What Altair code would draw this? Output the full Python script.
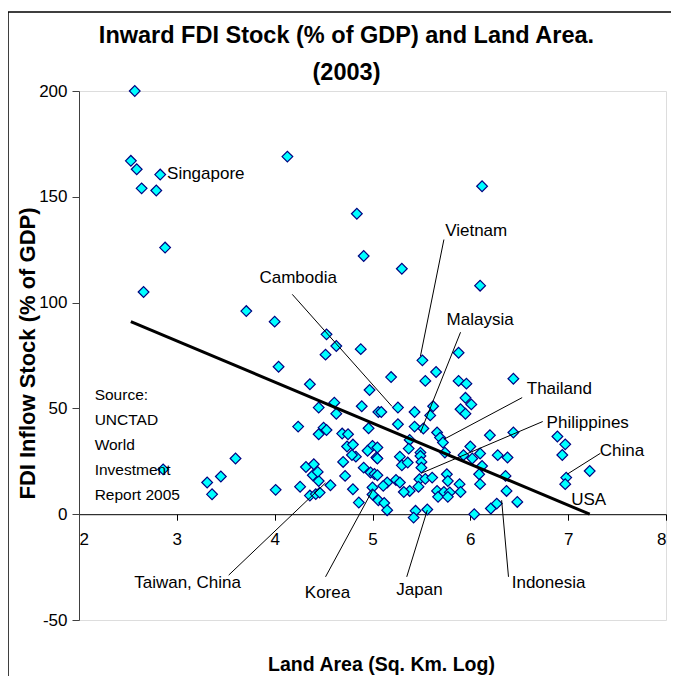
import altair as alt
import pandas as pd

# ---- scatter data (log land area, FDI stock % of GDP) ----
land_log = [
    2.57, 2.53, 2.59, 2.64, 2.79, 2.83, 4.13, 6.12, 4.84, 2.88, 4.91, 5.30, 6.10, 2.66,
    3.71, 4.00, 4.53, 4.63, 4.88, 4.52, 4.04, 5.51, 5.65, 5.88, 5.54, 5.88, 5.96, 6.44,
    5.19, 4.97, 4.36, 5.95, 6.01, 4.61, 4.45, 4.89, 5.26, 5.62, 5.90,
    4.63, 5.06, 5.95, 5.59, 5.43, 5.09, 5.26, 5.43, 5.52, 4.96, 4.24, 4.50, 4.53, 4.45,
    4.69, 4.75, 5.66, 5.69, 6.20, 6.44, 6.89, 5.38,
    4.74, 4.80, 4.83, 4.79, 5.00, 4.95, 5.04, 5.72, 5.74, 6.00, 6.10, 5.93, 6.02, 6.28,
    6.38, 6.97, 6.94, 5.49, 5.49, 5.37, 5.28, 5.05, 5.05, 3.60,
    6.12, 6.09, 6.10, 6.36, 6.37, 6.98, 7.22, 6.97, 5.50, 5.50, 5.48, 5.54, 5.61, 5.30,
    5.36, 4.91, 4.98, 5.02, 5.05, 5.15, 5.24, 5.28, 5.76, 5.77, 5.89, 5.66, 5.73, 5.79,
    5.90, 5.11, 4.80, 4.72, 4.70, 5.38, 5.32, 5.47, 2.86, 3.45, 3.31, 3.36, 4.01, 4.26,
    4.32, 4.40, 4.39, 4.45, 4.44, 4.57, 4.36, 4.42, 4.46, 5.00, 5.00, 4.86, 5.06, 5.12,
    5.15, 5.44, 5.42, 5.56, 5.67, 5.77, 6.04, 6.21, 6.27, 6.48,
]
fdi_stock = [
    200, 167, 163, 154, 153, 160.5, 169, 155, 142, 126, 122, 116, 108, 105,
    96, 91, 85, 79.5, 78, 75.4, 69.7, 72.7, 67.2, 76.3, 63, 63, 61.7, 64,
    64.8, 58.7, 61.4, 55, 51.9, 52.7, 50.4, 51, 50.4, 51, 49.6,
    47.5, 48.3, 47.5, 46.7, 48.3, 48.3, 42.5, 41.4, 40.5, 40.6, 41.4, 40.9, 39.8, 37.8,
    38.1, 37.8, 38.6, 36.2, 37.3, 38.6, 36.7, 35.1,
    32, 32.9, 27.2, 28, 32.3, 30, 26.8, 33.9, 29.1, 32, 28.7, 27.9, 26.3, 27.9,
    26.8, 33, 28, 29.1, 27.5, 31, 27.2, 31.5, 26.3, 26.3,
    22.8, 18.9, 14.2, 18.1, 11, 17.3, 20.4, 14.2, 24.7, 22, 16.5, 16.7, 17.3, 23.1,
    24.4, 22, 19.7, 19, 18.4, 15, 16.2, 15, 18.9, 15.7, 14.2, 11, 10.5, 10.3,
    10.5, 13.4, 11.8, 18.1, 24.7, 11, 10.5, 13, 21.2, 17.8, 15, 9.4, 11.5, 13,
    22.3, 23.6, 18.4, 15.7, 20, 13.7, 8.8, 9.5, 10.2, 12.6, 9.3, 5.5, 6.6, 5.3,
    1.9, 1.6, -1.6, 2.2, 8.2, 8.2, 0, 2.7, 5, 5.8,
]

# ---- trend line end points ----
trend_x = [2.53, 7.22]
trend_y = [91, 0]

# ---- country labels ----
label_names = ["Cambodia", "Vietnam", "Malaysia", "Thailand", "Philippines", "China",
               "USA", "Taiwan, China", "Korea", "Japan", "Indonesia"]
label_x = [4.24, 6.06, 6.10, 6.91, 7.20, 7.55, 7.21, 3.11, 4.54, 5.48, 6.80]
label_y = [111.8, 133.8, 91.7, 59.3, 43.3, 29.9, 6.8, -32.4, -37.1, -35.8, -32.4]

sing_name = ["Singapore"]
sing_x = [2.90]
sing_y = [161]

# ---- leader lines ----
lead_x1 = [4.18, 5.73, 5.90, 6.53, 6.74, 7.33, 3.53, 4.52, 5.35, 6.39]
lead_y1 = [103.9, 129.8, 86, 55.1, 43.8, 28.8, -28.8, -29.6, -29.6, -29.6]
lead_x2 = [5.20, 5.49, 5.49, 5.73, 5.50, 6.99, 4.52, 5.00, 5.56, 6.32]
lead_y2 = [50.9, 74.7, 38.6, 35.4, 19.4, 18.9, 14.8, 11.3, 1.9, 6.6]

source_lines = ["Source:", "UNCTAD", "World", "Investment", "Report 2005"]
source_x = [2.16]
source_y = [56.2]

FONT = "Liberation Sans"

xscale = alt.Scale(domain=[2, 8], nice=False, zero=False)
yscale = alt.Scale(domain=[-50, 200], nice=False, zero=False)

pts = pd.DataFrame({"x": land_log, "y": fdi_stock})
trend = pd.DataFrame({"x": trend_x, "y": trend_y})
labels = pd.DataFrame({"x": label_x, "y": label_y, "name": label_names})
sing = pd.DataFrame({"x": sing_x, "y": sing_y, "name": sing_name})
leads = pd.DataFrame({"x": lead_x1, "y": lead_y1, "x2": lead_x2, "y2": lead_y2})
src = pd.DataFrame({"x": source_x, "y": source_y, "txt": [source_lines]})

x_axis = alt.Axis(
    values=[2, 3, 4, 5, 6, 7, 8], offset=-105.8, grid=False,
    domainColor="black", tickColor="black", tickSize=6, labelPadding=11,
    labelFont=FONT, labelFontSize=17, labelColor="black",
    title="Land Area (Sq. Km. Log)", titleFont=FONT, titleFontSize=19.5,
    titleFontWeight="bold", titleColor="black", titleBaseline="middle",
    titleX=302, titleY=150,
)
y_axis = alt.Axis(
    values=[-50, 0, 50, 100, 150, 200], grid=False,
    labelExpr="'' + datum.value",
    domainColor="#404040", tickColor="#404040", tickSize=7, labelPadding=5,
    labelFont=FONT, labelFontSize=17, labelColor="black",
    title="FDI Inflow Stock (% of GDP)", titleFont=FONT, titleFontSize=22,
    titleFontWeight="bold", titleColor="black", titleBaseline="middle",
    titleX=-52, titleY=262,
)

X = alt.X("x:Q", scale=xscale, axis=x_axis)
Y = alt.Y("y:Q", scale=yscale, axis=y_axis)

scatter = alt.Chart(pts).mark_point(
    shape="diamond", filled=True, fill="#00FFFF", stroke="#000080",
    strokeWidth=1.2, size=115, opacity=1,
).encode(x=X, y=Y)

trend_line = alt.Chart(trend).mark_line(color="black", strokeWidth=3).encode(x=X, y=Y)

lead_rules = alt.Chart(leads).mark_rule(color="black", strokeWidth=1).encode(
    x=X, y=Y, x2="x2:Q", y2="y2:Q",
)

label_text = alt.Chart(labels).mark_text(
    font=FONT, fontSize=17, color="black", align="center", baseline="middle",
).encode(x=X, y=Y, text="name:N")

sing_text = alt.Chart(sing).mark_text(
    font=FONT, fontSize=17, color="black", align="left", baseline="middle",
).encode(x=X, y=Y, text="name:N")

source_text = alt.Chart(src).mark_text(
    font=FONT, fontSize=15.5, color="black", align="left", baseline="middle",
    lineHeight=25,
).encode(x=X, y=Y, text="txt")

frame = alt.Chart(pd.DataFrame({"k": [0]})).mark_rect(
    fillOpacity=0, stroke="black", strokeWidth=1.5,
).encode(
    x=alt.value(-71), x2=alt.value(720), y=alt.value(-79), y2=alt.value(720),
)

chart = alt.layer(
    frame, scatter, trend_line, lead_rules, label_text, sing_text, source_text,
).properties(
    width=587, height=529,
    title=alt.Title(
        ["Inward FDI Stock (% of GDP) and Land Area.", "(2003)"],
        font=FONT, fontSize=23.5, fontWeight="bold", color="black",
        lineHeight=37, anchor="middle", frame="group", dx=-26, offset=-97,
        baseline="bottom",
    ),
    autosize=alt.AutoSizeParams(type="none"),
    padding={"left": 71, "top": 83, "right": 5, "bottom": 56},
).configure_view(
    stroke="#888888", strokeWidth=1,
).configure(background="white")

chart.save("out.html", embed_options={"renderer": "svg", "actions": False})
